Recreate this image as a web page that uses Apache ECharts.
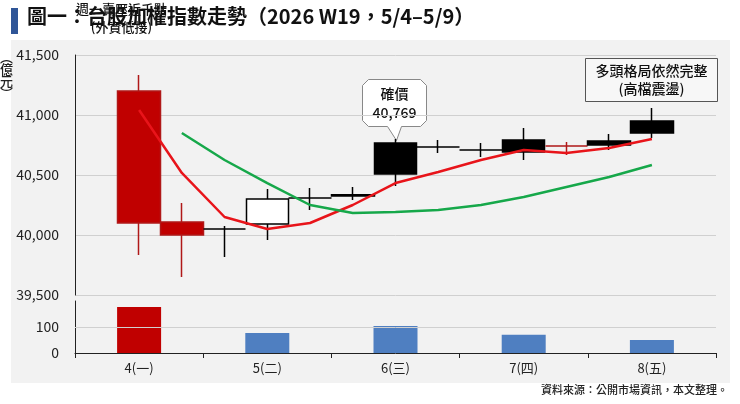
<!DOCTYPE html>
<html><head><meta charset="utf-8">
<script src="https://cdn.jsdelivr.net/npm/echarts@6/dist/echarts.min.js"></script>
<style>html,body{margin:0;padding:0;background:#fff}#c{width:740px;height:404px}</style>
</head><body><div id="c"></div>
<script>
const dayLabels = ["4(一)","5(二)","6(三)","7(四)","8(五)"];
const openV  = [41200,40108,40050,40092,40308,40325,40508,40733,40708,40692,40742,40750,40850];
const closeV = [40100,40000,40050,40300,40308,40335,40767,40733,40708,40792,40742,40783,40950];
const lowV   = [39833,39650,39817,39958,40208,40292,40408,40683,40650,40625,40667,40708,40808];
const highV  = [41333,40267,40075,40383,40392,40400,40800,40792,40767,40892,40775,40842,41058];
const candleStyle = ["red","red","black","white","black","black","black","black","black","black","darkred","black","black"];
const ma5  = [41042,40517,40150,40050,40100,40250,40433,40525,40625,40708,40683,40725,40800];
const ma20 = [null,40850,40625,40433,40250,40183,40192,40208,40250,40317,40400,40483,40583];
const volume = [177,77,104,70,50];
const volColors = ["#c00000","#4f7fc1","#4f7fc1","#4f7fc1","#4f7fc1"];
const yTicks = [39500,40000,40500,41000,41500];

const styles = {
  red:{color:'#c00000',borderColor:'#b01818'},
  darkred:{color:'#b01818',borderColor:'#b01818'},
  black:{color:'#000',borderColor:'#000'},
  white:{color:'#fff',borderColor:'#000'}
};
const cats = ['_0'].concat(openV.map((_,i)=>'c'+(i+1))).concat(['_e']);
const candleData = ['-'].concat(openV.map((o,i)=>{
  const s = styles[candleStyle[i]];
  return {value:[o,closeV[i],lowV[i],highV[i]],
    itemStyle:{color:s.color,color0:s.color,borderColor:s.borderColor,borderColor0:s.borderColor,borderWidth:1.5}};
})).concat(['-']);
const pad = a => ['-'].concat(a.map(v=>v==null?'-':v)).concat(['-']);

const chart = echarts.init(document.getElementById('c'));
const font = "'Noto Sans CJK TC','Noto Sans',sans-serif";
chart.setOption({
  animation:false,
  textStyle:{fontFamily:font},
  graphic:[
    {type:'rect',z:-10,shape:{x:11,y:40,width:719,height:343},style:{fill:'#f2f2f2'}},
    {type:'rect',shape:{x:11,y:8,width:7,height:26},style:{fill:'#2f5597'}},
    {type:'text',left:27,top:6,style:{text:'圖一：台股加權指數走勢（2026 W19，5/4–5/9）',font:'bold 20px '+font,fill:'#111'}},
    {type:'text',right:12,top:384,style:{text:'資料來源：公開市場資訊，本文整理。',font:'500 11px '+font,fill:'#222'}},
    {type:'group',left:0,top:0,z:10,children:[
      {type:'text',x:130,y:259,style:{text:'週一賣壓近千點\n(外資低接)',font:'500 13px '+font,fill:'#111',align:'center',lineHeight:18}},
      {type:'text',x:15,y:310,style:{text:'︵\n億\n元\n︶',font:'500 13px '+font,fill:'#222',align:'center',lineHeight:12}}
    ]},
    {type:'group',left:362,top:79,children:[
      {type:'polygon',shape:{points:[[6,0],[58,0],[64,6],[64,41],[58,47],[39,47],[34,61],[25,47],[6,47],[0,41],[0,6]]},style:{fill:'#fff',stroke:'#888',lineWidth:1}},
      {type:'text',x:32,y:5,style:{text:'確價\n40,769',font:'500 14px '+font,fill:'#111',align:'center',lineHeight:19}}
    ]},
    {type:'group',left:585,top:58,children:[
      {type:'rect',shape:{x:0,y:0,width:132,height:43},style:{fill:'#f7f7f7',stroke:'#555',lineWidth:1}},
      {type:'text',x:66,y:3,style:{text:'多頭格局依然完整\n(高檔震盪)',font:'500 14px '+font,fill:'#111',align:'center',lineHeight:18}}
    ]}
  ],
  grid:[
    {left:75,right:24,top:55,height:240},
    {left:75,right:24,top:301,bottom:51}
  ],
  xAxis:[
    {type:'category',gridIndex:0,data:cats,boundaryGap:true,axisLine:{show:false},axisTick:{show:false},axisLabel:{show:false}},
    {type:'category',gridIndex:1,data:dayLabels,boundaryGap:true,axisLine:{lineStyle:{color:'#222'}},axisTick:{show:true,lineStyle:{color:'#222'}},axisLabel:{color:'#222',fontSize:13,margin:9}}
  ],
  yAxis:[
    {type:'value',gridIndex:0,min:39500,max:41500,interval:500,axisLine:{show:true,lineStyle:{color:'#222'}},axisTick:{show:false},
     splitLine:{lineStyle:{color:'#d0d0d0'}},axisLabel:{color:'#222',fontSize:14,margin:16,formatter:v=>v.toLocaleString('en-US')}},
    {type:'value',gridIndex:1,min:0,max:200,interval:100,axisLine:{show:true,lineStyle:{color:'#222'}},axisTick:{show:false},
     splitLine:{show:false},axisLabel:{color:'#222',fontSize:14,margin:16,showMaxLabel:false,formatter:v=>v===200?'':v}}
  ],
  series:[
    {type:'candlestick',xAxisIndex:0,yAxisIndex:0,data:candleData,barWidth:43,z:2},
    {type:'line',xAxisIndex:0,yAxisIndex:0,data:pad(ma5),symbol:'none',lineStyle:{color:'#e8141a',width:2.5},z:3},
    {type:'line',xAxisIndex:0,yAxisIndex:0,data:pad(ma20),symbol:'none',lineStyle:{color:'#16a84a',width:2.5},z:3},
    {type:'bar',xAxisIndex:1,yAxisIndex:1,barWidth:44,
     data:volume.map((v,i)=>({value:v,itemStyle:{color:volColors[i]}})),
     markLine:{silent:true,symbol:'none',label:{show:false},lineStyle:{color:'#d0d0d0',type:'solid',width:1},data:[{yAxis:100}]}}
  ]
});
</script></body></html>
